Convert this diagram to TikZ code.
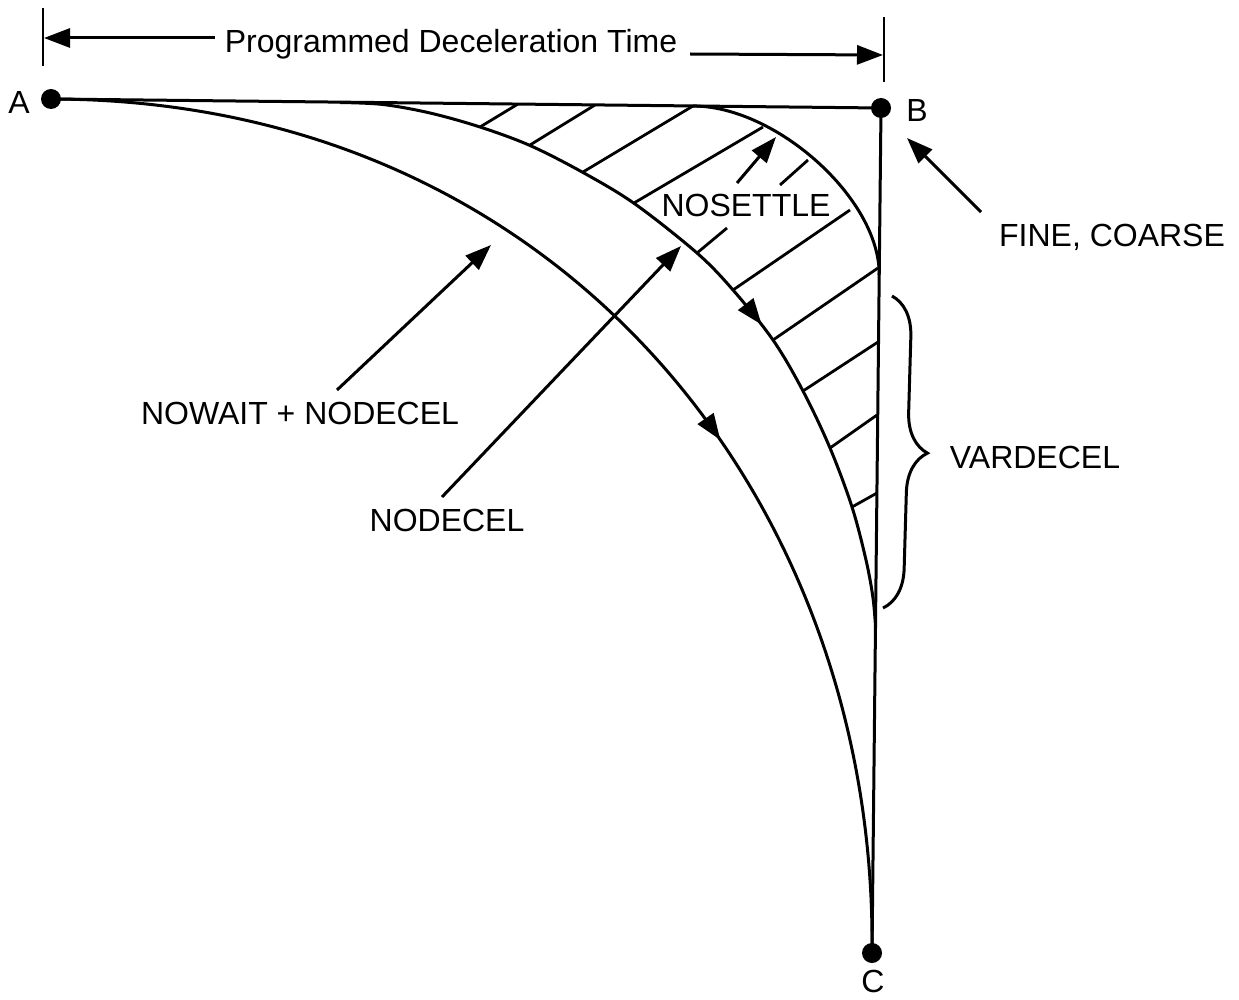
\documentclass[tikz,border=0pt]{standalone}
\usepackage{fontspec}
\setmainfont{Liberation Sans}
\usetikzlibrary{arrows.meta,decorations.markings,decorations.pathreplacing}
\begin{document}
\begin{tikzpicture}[x=1pt,y=-1pt,line width=3pt,
  lbl/.style={font=\fontsize{32}{38}\selectfont,inner sep=0pt},
  dot/.style={circle,fill,inner sep=0pt,minimum size=20pt},
  tip/.style={-{Triangle[length=26pt,width=19pt]}},
  hatch/.style={line width=2.8pt},
  midarrow/.style={postaction={decorate},decoration={markings,mark=at position #1 with {\arrow{Triangle[length=26pt,width=19pt]}}}}
]
\useasboundingbox (0,0) rectangle (1239,1000);

% points
\node[dot] (A) at (51,99) {};
\node[dot] (B) at (881,108) {};
\node[dot] (C) at (872,953) {};
\node[lbl] (la) at (19,102) {A};
\node[lbl] (lb) at (917,110) {B};
\node[lbl] (lc) at (873,981) {C};

% frame
\draw (A.center) -- (B.center);
\draw (B.center) -- (C.center);

% outer curve (NOWAIT + NODECEL)
\draw[midarrow=0.59] (A.center) .. controls (560,100) and (877,500) .. (C.center);

% middle curve (NODECEL)
\draw[midarrow=0.6] plot[smooth,tension=0.55] coordinates {(340,102.5) (383,104.5) (430,113) (480,127) (530,145.5) (583,172.5) (635,204) (697,253) (733,290) (773,340) (803,391) (830,448) (852,507) (866,560) (873,598) (875.6,628)};

% inner curve (NOSETTLE)
\coordinate (i0) at (693,106);
\coordinate (i1) at (879.2,275);
\draw (i0) .. controls (776,106) and (880,199) .. (i1);

% hatching
\draw[hatch] (480,127) -- (518,104);
\draw[hatch] (530,145) -- (595,105);
\draw[hatch] (583,172) -- (693,106);
\draw[hatch] (634,203) -- (763,127);
\draw[hatch] (697,253) -- (727,228);
\draw[hatch] (780,185) -- (808,160);
\draw[hatch] (733,290) -- (850,210);
\draw[hatch] (773,340) -- (878,268);
\draw[hatch] (803,391) -- (878,342);
\draw[hatch] (830,448) -- (877,415);
\draw[hatch] (852,507) -- (877,493);

% dimension line
\node[lbl] (pdt) at (451,44) {Programmed Deceleration Time};
\coordinate (tl1) at (43,8);
\coordinate (tl2) at (43,66);
\coordinate (tr1) at (884,17);
\coordinate (tr2) at (884,82);
\draw[line width=2.6pt] (tl1) -- (tl2);
\draw[line width=2.6pt] (tr1) -- (tr2);
\coordinate (dl0) at (215,38);
\coordinate (dl1) at (44,38);
\coordinate (dr0) at (690,54);
\coordinate (dr1) at (883,55);
\draw[tip] (dl0) -- (dl1);
\draw[tip] (dr0) -- (dr1);

% labels
\node[lbl] (nosettle) at (746,205) {NOSETTLE};
\node[lbl] (nowait) at (300,413) {NOWAIT + NODECEL};
\node[lbl] (nodecel) at (447,520) {NODECEL};
\node[lbl] (fine) at (1112,237) {FINE, COARSE};
\node[lbl] (vardecel) at (1035,457) {VARDECEL};

% label arrows
\coordinate (ns0) at (737,183);
\coordinate (ns1) at (776,137);
\coordinate (nw0) at (337,390);
\coordinate (nw1) at (491,245);
\coordinate (nd0) at (442,497);
\coordinate (nd1) at (681,246);
\coordinate (fc0) at (981,212);
\coordinate (fc1) at (907,138);
\draw[tip] (ns0) -- (ns1);
\draw[tip] (nw0) -- (nw1);
\draw[tip] (nd0) -- (nd1);
\draw[tip] (fc0) -- (fc1);

% brace
\coordinate (br0) at (892,296);
\coordinate (br1) at (883,608);
\draw[decorate,decoration={brace,amplitude=40pt}] (br0) -- (br1);
\end{tikzpicture}
\end{document}
